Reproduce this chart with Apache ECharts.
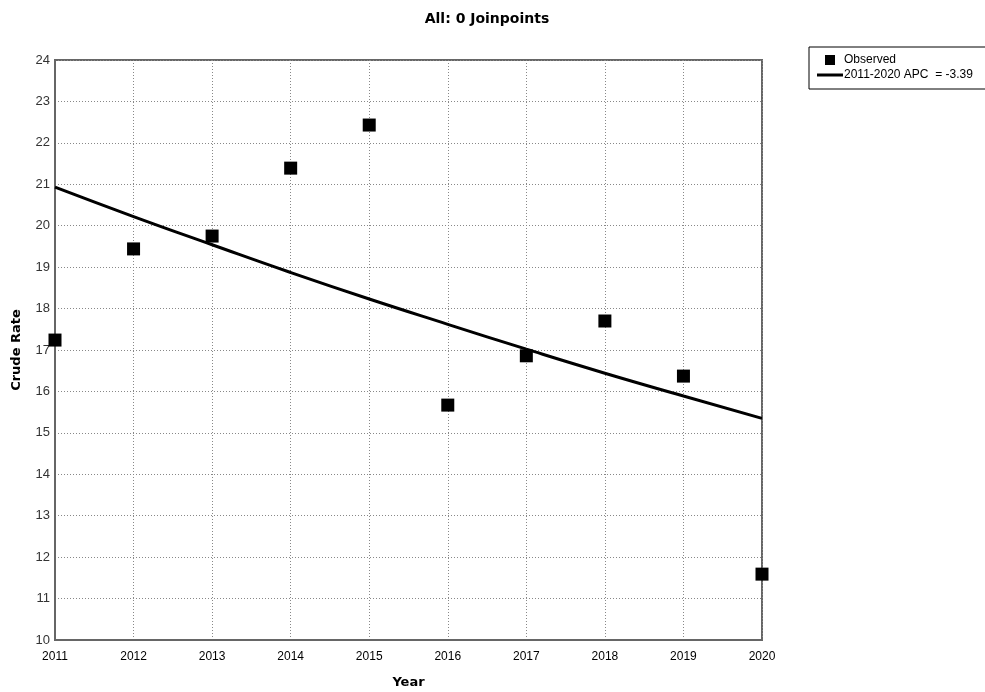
<!DOCTYPE html>
<html>
<head>
<meta charset="utf-8">
<script src="https://cdn.jsdelivr.net/npm/echarts@6/dist/echarts.min.js"></script>
<style>
  html, body { margin: 0; padding: 0; background: #fff; }
  #chart { width: 985px; height: 692px; }
</style>
</head>
<body>
<div id="chart"></div>
<script>
// Observed crude rates by year
const years = [2011, 2012, 2013, 2014, 2015, 2016, 2017, 2018, 2019, 2020];
const observed = [17.24, 19.44, 19.75, 21.39, 22.43, 15.67, 16.86, 17.70, 16.37, 11.59];
// Fitted values of the 0-joinpoint model
const fitted = [20.93, 20.22, 19.54, 18.87, 18.23, 17.62, 17.02, 16.44, 15.89, 15.35];
const apc = -3.39;
const titleText = 'All: 0 Joinpoints';
const fitName = '2011-2020 APC  = ' + apc.toFixed(2);

const boldFont = '"DejaVu Sans", Tahoma, sans-serif';
const font = '"Liberation Sans", Arial, sans-serif';
const chart = echarts.init(document.getElementById('chart'));

chart.setOption({
  animation: false,
  backgroundColor: '#ffffff',
  title: {
    text: titleText,
    left: 482,
    top: 7,
    textAlign: 'center',
    textStyle: { fontFamily: boldFont, fontSize: 14, fontWeight: 'bold', color: '#000' }
  },
  legend: {
    left: 809,
    top: 47,
    width: 175,
    orient: 'vertical',
    itemGap: 3,
    itemWidth: 26,
    itemHeight: 10,
    padding: [7, 26, 8, 8],
    borderColor: '#000',
    borderWidth: 1,
    textStyle: { fontFamily: font, fontSize: 12, color: '#000', padding: [0, 0, 0, -4] },
    data: [
      { name: 'Observed', icon: 'path://M8,0 L17,0 L17,9 L8,9 Z', itemStyle: { color: '#000', opacity: 1 } },
      { name: fitName, icon: 'path://M0,0 L26,0 L26,3 L0,3 Z', itemStyle: { color: '#000' } }
    ]
  },
  grid: {
    left: 55, right: 223, top: 60, bottom: 52,
    containLabel: false, outerBoundsMode: 'none',
    show: true, borderColor: '#666', borderWidth: 2, backgroundColor: 'transparent'
  },
  xAxis: {
    type: 'value',
    min: 2011,
    max: 2020,
    interval: 1,
    name: 'Year',
    nameLocation: 'middle',
    nameGap: 36,
    nameTextStyle: { fontFamily: boldFont, fontSize: 13, fontWeight: 'bold', color: '#000' },
    axisLine: { lineStyle: { color: '#666', width: 2 } },
    axisTick: { show: false },
    axisLabel: { fontFamily: font, fontSize: 12, color: '#000', margin: 11, formatter: v => String(v) },
    splitLine: { show: true, lineStyle: { color: '#888', type: [1, 2], width: 1 } }
  },
  yAxis: {
    type: 'value',
    min: 10,
    max: 24,
    interval: 1,
    name: 'Crude Rate',
    nameLocation: 'middle',
    nameGap: 32,
    nameRotate: 90,
    nameTextStyle: { fontFamily: boldFont, fontSize: 13, fontWeight: 'bold', color: '#000' },
    axisLine: { show: true, lineStyle: { color: '#666', width: 2 } },
    axisTick: { show: false },
    axisLabel: { fontFamily: font, fontSize: 13, color: '#333', margin: 5 },
    splitLine: { show: true, lineStyle: { color: '#888', type: [1, 2], width: 1 } }
  },
  series: [
    {
      name: 'Observed',
      type: 'scatter',
      symbol: 'rect',
      symbolSize: 13,
      itemStyle: { color: '#000', opacity: 1 },
      z: 3,
      data: years.map((y, i) => [y, observed[i]])
    },
    {
      name: fitName,
      type: 'line',
      symbol: 'none',
      smooth: true,
      lineStyle: { color: '#000', width: 3 },
      itemStyle: { color: '#000' },
      z: 2,
      data: years.map((y, i) => [y, fitted[i]])
    }
  ]
});
</script>
</body>
</html>
